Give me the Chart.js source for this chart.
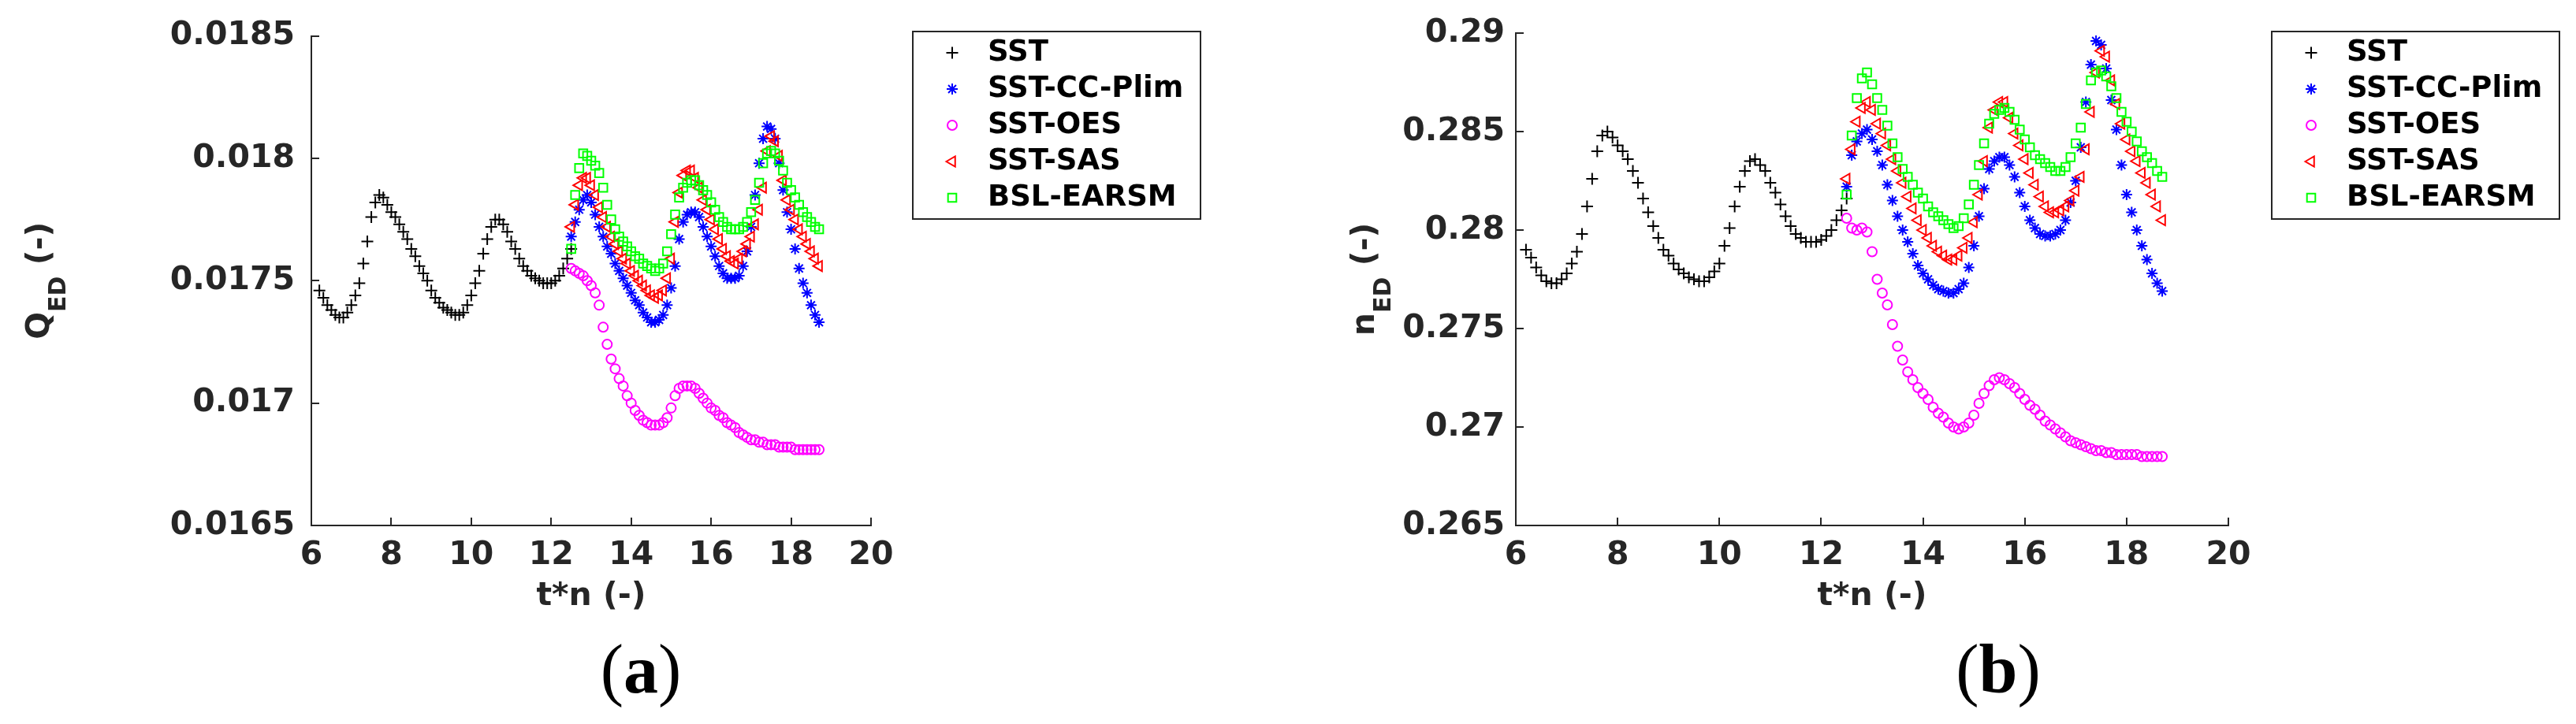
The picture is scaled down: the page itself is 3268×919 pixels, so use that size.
<!DOCTYPE html>
<html>
<head>
<meta charset="utf-8">
<script src="https://cdn.jsdelivr.net/npm/chart.js@4.4.1/dist/chart.umd.min.js"></script>
<style>
  html, body { margin: 0; padding: 0; background: #ffffff; }
  #wrap { position: relative; width: 3268px; height: 919px; }
  canvas { position: absolute; top: 0; }
</style>
</head>
<body>
<div id="wrap">
  <canvas id="chartQ" width="1634" height="919" style="left:0px"></canvas>
  <canvas id="chartN" width="1634" height="919" style="left:1634px"></canvas>
</div>
<script>
// ---- data ----
const seriesNames = ["SST", "SST-CC-Plim", "SST-OES", "SST-SAS", "BSL-EARSM"];

const xTicks = [6, 8, 10, 12, 14, 16, 18, 20];
const xTickLabels = ["6", "8", "10", "12", "14", "16", "18", "20"];
const qTicks = [0.0165, 0.017, 0.0175, 0.018, 0.0185];
const qTickLabels = ["0.0165", "0.017", "0.0175", "0.018", "0.0185"];
const nTicks = [0.265, 0.27, 0.275, 0.28, 0.285, 0.29];
const nTickLabels = ["0.265", "0.27", "0.275", "0.28", "0.285", "0.29"];

// time of the SST run and of the restarted runs
const tSST = [6.2, 6.3, 6.4, 6.5, 6.6, 6.7, 6.8, 6.9, 7.0, 7.1, 7.2, 7.3, 7.4, 7.5, 7.6, 7.7,
  7.8, 7.9, 8.0, 8.1, 8.2, 8.3, 8.4, 8.5, 8.6, 8.7, 8.8, 8.9, 9.0, 9.1, 9.2, 9.3, 9.4, 9.5,
  9.6, 9.7, 9.8, 9.9, 10.0, 10.1, 10.2, 10.3, 10.4, 10.5, 10.6, 10.7, 10.8, 10.9, 11.0, 11.1,
  11.2, 11.3, 11.4, 11.5, 11.6, 11.7, 11.8, 11.9, 12.0, 12.1, 12.2, 12.3, 12.4, 12.5];
const tRun = [12.5, 12.6, 12.7, 12.8, 12.9, 13.0, 13.1, 13.2, 13.3, 13.4, 13.5, 13.6, 13.7,
  13.8, 13.9, 14.0, 14.1, 14.2, 14.3, 14.4, 14.5, 14.6, 14.7, 14.8, 14.9, 15.0, 15.1, 15.2,
  15.3, 15.4, 15.5, 15.6, 15.7, 15.8, 15.9, 16.0, 16.1, 16.2, 16.3, 16.4, 16.5, 16.6, 16.7,
  16.8, 16.9, 17.0, 17.1, 17.2, 17.3, 17.4, 17.5, 17.6, 17.7, 17.8, 17.9, 18.0, 18.1, 18.2,
  18.3, 18.4, 18.5, 18.6, 18.7];

// panel (a): Q_ED
const qSST = [0.01746, 0.01743, 0.0174, 0.01738, 0.01736, 0.01735, 0.01735, 0.01737, 0.0174, 0.01744,
  0.01749, 0.01757, 0.01766, 0.01776, 0.01782, 0.01785, 0.01784, 0.01781, 0.01778, 0.01776,
  0.01773, 0.0177, 0.01767, 0.01763, 0.0176, 0.01756, 0.01753, 0.0175, 0.01746, 0.01743,
  0.01741, 0.01739, 0.01738, 0.01737, 0.01736, 0.01736, 0.01737, 0.0174, 0.01744, 0.01749,
  0.01754, 0.01761, 0.01767, 0.01772, 0.01775, 0.01775, 0.01773, 0.0177, 0.01766, 0.01763,
  0.01759, 0.01756, 0.01754, 0.01752, 0.01751, 0.0175, 0.01749, 0.01749, 0.01749, 0.0175,
  0.01752, 0.01755, 0.01759, 0.01763];
const qPlim = [0.01768, 0.01774, 0.01779, 0.01783, 0.01785, 0.01782, 0.01777, 0.01772, 0.01768, 0.01764,
  0.01761, 0.01757, 0.01754, 0.01751, 0.01748, 0.01745, 0.01742, 0.0174, 0.01737, 0.01735,
  0.01733, 0.01733, 0.01734, 0.01736, 0.0174, 0.01747, 0.01756, 0.01767, 0.01774, 0.01777,
  0.01778, 0.01778, 0.01776, 0.01772, 0.01768, 0.01764, 0.0176, 0.01756, 0.01753, 0.01751,
  0.01751, 0.01751, 0.01752, 0.01756, 0.01762, 0.01772, 0.01785, 0.01798, 0.01808, 0.01813,
  0.01812, 0.01808, 0.01798, 0.01787, 0.01778, 0.01771, 0.01763, 0.01755, 0.01749, 0.01745,
  0.0174, 0.01736, 0.01733];
const qOES = [0.01755, 0.01754, 0.01753, 0.01752, 0.0175, 0.01748, 0.01745, 0.0174, 0.01731, 0.01724,
  0.01718, 0.01714, 0.0171, 0.01707, 0.01703, 0.017, 0.01697, 0.01695, 0.01693, 0.01692,
  0.01691, 0.01691, 0.01691, 0.01692, 0.01694, 0.01698, 0.01703, 0.01706, 0.01707, 0.01707,
  0.01707, 0.01706, 0.01704, 0.01702, 0.017, 0.01698, 0.01697, 0.01695, 0.01694, 0.01692,
  0.01691, 0.0169, 0.01688, 0.01687, 0.01686, 0.01685, 0.01685, 0.01684, 0.01684, 0.01683,
  0.01683, 0.01683, 0.01682, 0.01682, 0.01682, 0.01682, 0.01681, 0.01681, 0.01681, 0.01681,
  0.01681, 0.01681, 0.01681];
const qSAS = [0.01772, 0.01781, 0.01789, 0.01792, 0.01792, 0.01789, 0.01785, 0.0178, 0.01776, 0.01772,
  0.01768, 0.01765, 0.01762, 0.01759, 0.01757, 0.01754, 0.01752, 0.0175, 0.01748, 0.01746,
  0.01744, 0.01743, 0.01744, 0.01746, 0.01751, 0.01759, 0.01774, 0.01786, 0.01793, 0.01795,
  0.01795, 0.01792, 0.01788, 0.01783, 0.01779, 0.01775, 0.01771, 0.01767, 0.01763, 0.0176,
  0.01758, 0.01757, 0.01759, 0.01762, 0.01765, 0.01768, 0.01773, 0.01779, 0.01788, 0.01803,
  0.01809, 0.01807, 0.01801, 0.01791, 0.01783, 0.01779, 0.01775, 0.01771, 0.01768, 0.01765,
  0.01762, 0.01759, 0.01756];
const qEARSM = [0.01763, 0.01785, 0.01796, 0.01802, 0.01801, 0.01799, 0.01797, 0.01794, 0.01788, 0.01781,
  0.01775, 0.01771, 0.01768, 0.01766, 0.01764, 0.01762, 0.0176, 0.01759, 0.01757, 0.01756,
  0.01755, 0.01754, 0.01755, 0.01757, 0.01762, 0.01769, 0.01777, 0.01784, 0.01788, 0.0179,
  0.01791, 0.01791, 0.01789, 0.01787, 0.01785, 0.01782, 0.01779, 0.01776, 0.01774, 0.01772,
  0.01771, 0.01771, 0.01771, 0.01772, 0.01774, 0.01778, 0.01783, 0.0179, 0.01798, 0.01802,
  0.01803, 0.01802, 0.01799, 0.01795, 0.0179, 0.01787, 0.01784, 0.01781, 0.01778, 0.01776,
  0.01774, 0.01772, 0.01771];

// panel (b): n_ED
const nSST = [0.2790, 0.2786, 0.2781, 0.2777, 0.2774, 0.2773, 0.2773, 0.2775, 0.2778, 0.2783,
  0.2789, 0.2798, 0.2812, 0.2826, 0.2840, 0.2848, 0.2850, 0.2847, 0.2843, 0.2840,
  0.2836, 0.2830, 0.2824, 0.2816, 0.2809, 0.2802, 0.2796, 0.2790, 0.2787, 0.2783,
  0.2780, 0.2778, 0.2776, 0.2775, 0.2774, 0.2774, 0.2776, 0.2779, 0.2783, 0.2792,
  0.2801, 0.2812, 0.2822, 0.2830, 0.2835, 0.2836, 0.2833, 0.2830, 0.2824, 0.2819,
  0.2813, 0.2807, 0.2802, 0.2798, 0.2796, 0.2794, 0.2794, 0.2794, 0.2795, 0.2797,
  0.2800, 0.2805, 0.2810, 0.2816];
const nPlim = [0.2822, 0.2838, 0.2845, 0.2849, 0.2851, 0.2846, 0.2840, 0.2833, 0.2823, 0.2815,
  0.2807, 0.2800, 0.2794, 0.2788, 0.2782, 0.2778, 0.2775, 0.2772, 0.2770, 0.2769,
  0.2768, 0.2768, 0.2770, 0.2773, 0.2781, 0.2792, 0.2807, 0.2821, 0.2831, 0.2835,
  0.2837, 0.2837, 0.2833, 0.2827, 0.2819, 0.2812, 0.2805, 0.2801, 0.2798, 0.2797,
  0.2797, 0.2798, 0.2800, 0.2805, 0.2814, 0.2825, 0.2842, 0.2865, 0.2884, 0.2896,
  0.2894, 0.2882, 0.2866, 0.2851, 0.2833, 0.2818, 0.2809, 0.2800, 0.2792, 0.2785,
  0.2778, 0.2773, 0.2769];
const nOES = [0.2806, 0.2801, 0.2800, 0.2801, 0.2799, 0.2789, 0.2775, 0.2768, 0.2762, 0.2752,
  0.2741, 0.2734, 0.2728, 0.2724, 0.2720, 0.2717, 0.2714, 0.2710, 0.2707, 0.2705,
  0.2702, 0.2700, 0.2699, 0.2700, 0.2702, 0.2706, 0.2712, 0.2717, 0.2721, 0.2724,
  0.2725, 0.2724, 0.2722, 0.2720, 0.2717, 0.2714, 0.2711, 0.2709, 0.2706, 0.2703,
  0.2701, 0.2699, 0.2697, 0.2695, 0.2693, 0.2692, 0.2691, 0.2690, 0.2689, 0.2688,
  0.2688, 0.2687, 0.2687, 0.2686, 0.2686, 0.2686, 0.2686, 0.2686, 0.2685, 0.2685,
  0.2685, 0.2685, 0.2685];
const nSAS = [0.2826, 0.2841, 0.2855, 0.2862, 0.2865, 0.2861, 0.2854, 0.2849, 0.2843, 0.2836,
  0.2830, 0.2824, 0.2817, 0.2811, 0.2805, 0.2800, 0.2796, 0.2792, 0.2789, 0.2787,
  0.2785, 0.2785, 0.2787, 0.2791, 0.2796, 0.2804, 0.2818, 0.2835, 0.2852, 0.2861,
  0.2865, 0.2865, 0.2857, 0.2849, 0.2843, 0.2836, 0.2829, 0.2823, 0.2817, 0.2812,
  0.2809, 0.2809, 0.2810, 0.2812, 0.2815, 0.2820, 0.2827, 0.2841, 0.2860, 0.2880,
  0.2891, 0.2888, 0.2876, 0.2864, 0.2854, 0.2846, 0.2840, 0.2835, 0.2829, 0.2824,
  0.2818, 0.2812, 0.2805];
const nEARSM = [0.2818, 0.2848, 0.2867, 0.2877, 0.2880, 0.2874, 0.2867, 0.2861, 0.2853, 0.2844,
  0.2837, 0.2831, 0.2827, 0.2823, 0.2819, 0.2816, 0.2812, 0.2809, 0.2807, 0.2805,
  0.2803, 0.2801, 0.2802, 0.2806, 0.2813, 0.2823, 0.2833, 0.2844, 0.2854, 0.2859,
  0.2861, 0.2862, 0.2860, 0.2856, 0.2851, 0.2846, 0.2842, 0.2838, 0.2836, 0.2834,
  0.2832, 0.2830, 0.2830, 0.2832, 0.2837, 0.2844, 0.2852, 0.2864, 0.2876, 0.2880,
  0.2881, 0.2878, 0.2873, 0.2867, 0.2860, 0.2855, 0.2850, 0.2845, 0.2840, 0.2837,
  0.2834, 0.2830, 0.2827];

// ---- styles (matlab markers) ----
const seriesColors = ["#000000", "#0000ff", "#ff00ff", "#ff0000", "#00ff00"];
const seriesMarkers = ["cross", "star", "circle", "triangle", "rect"];
const markerRadius = [7.5, 7, 6, 7.5, 7.5];
const markerRotation = [0, 0, 0, -90, 0];
const markerLine = 2;
const axisColor = "#262626";
const fontFamily = "'DejaVu Sans'";

Chart.defaults.font.family = fontFamily;

const toPoints = function (xs, ys) {
  return xs.map(function (x, i) {
    return { x: x, y: ys[i] };
  });
};

const buildDatasets = function (runs) {
  return runs.map(function (run, i) {
    return {
      label: seriesNames[i],
      data: toPoints(run[0], run[1]),
      showLine: false,
      pointStyle: seriesMarkers[i],
      pointRadius: markerRadius[i],
      pointHoverRadius: markerRadius[i],
      pointRotation: markerRotation[i],
      pointBorderColor: seriesColors[i],
      pointBackgroundColor: "rgba(0,0,0,0)",
      pointBorderWidth: markerLine,
      borderColor: seriesColors[i],
      order: 5 - i,
    };
  });
};

// ticks pointing inside, y title with subscript, legend box, sub caption
const panelDecor = {
  id: "panelDecor",
  afterDraw: function (chart, args, opts) {
    const ctx = chart.ctx;
    const area = chart.chartArea;
    const xs = chart.scales.x;
    const ys = chart.scales.y;
    ctx.save();

    ctx.strokeStyle = axisColor;
    ctx.lineWidth = 2;
    ctx.beginPath();
    xs.ticks.forEach(function (t) {
      const px = Math.round(xs.getPixelForValue(t.value));
      ctx.moveTo(px, area.bottom);
      ctx.lineTo(px, area.bottom - opts.tickLen);
    });
    ys.ticks.forEach(function (t) {
      const py = Math.round(ys.getPixelForValue(t.value));
      ctx.moveTo(area.left, py);
      ctx.lineTo(area.left + opts.tickLen, py);
    });
    ctx.stroke();

    // y axis title
    const big = "bold 41px " + fontFamily;
    const small = "bold 30px " + fontFamily;
    ctx.font = big;
    const w1 = ctx.measureText(opts.yMain).width;
    const w3 = ctx.measureText(" (-)").width;
    ctx.font = small;
    const w2 = ctx.measureText("ED").width;
    ctx.save();
    ctx.translate(opts.yTitleX, (area.top + area.bottom) / 2);
    ctx.rotate(-Math.PI / 2);
    ctx.fillStyle = axisColor;
    ctx.textAlign = "left";
    ctx.textBaseline = "alphabetic";
    let tx = -(w1 + w2 + w3) / 2;
    ctx.font = big;
    ctx.fillText(opts.yMain, tx, 0);
    tx += w1;
    ctx.font = small;
    ctx.fillText("ED", tx, 21);
    tx += w2;
    ctx.font = big;
    ctx.fillText(" (-)", tx, 0);
    ctx.restore();

    // legend
    const lg = opts.legend;
    ctx.strokeStyle = axisColor;
    ctx.lineWidth = 2;
    ctx.strokeRect(lg.left, lg.top, lg.width, lg.height);
    ctx.font = "bold 37px " + fontFamily;
    ctx.textAlign = "left";
    ctx.textBaseline = "middle";
    chart.data.datasets.forEach(function (ds, i) {
      const y = lg.top + 27 + i * 46;
      ctx.strokeStyle = seriesColors[i];
      ctx.fillStyle = "rgba(0,0,0,0)";
      ctx.lineWidth = markerLine;
      Chart.helpers.drawPoint(ctx, {
        pointStyle: seriesMarkers[i],
        radius: markerRadius[i],
        rotation: markerRotation[i],
        borderWidth: markerLine,
      }, lg.left + 50, y);
      ctx.fillStyle = "#000000";
      ctx.fillText(ds.label, lg.left + 95, y);
    });

    // sub caption (a) / (b)
    const serif = "88px 'Liberation Serif'";
    const serifBold = "bold 88px 'Liberation Serif'";
    ctx.font = serif;
    const pw = ctx.measureText("(").width;
    ctx.font = serifBold;
    const lw = ctx.measureText(opts.caption).width;
    let cx = opts.captionX - (2 * pw + lw) / 2;
    ctx.fillStyle = "#000000";
    ctx.textBaseline = "alphabetic";
    ctx.font = serif;
    ctx.fillText("(", cx, 879);
    cx += pw;
    ctx.font = serifBold;
    ctx.fillText(opts.caption, cx, 879);
    cx += lw;
    ctx.font = serif;
    ctx.fillText(")", cx, 879);

    ctx.restore();
  },
};

const makePanel = function (id, runs, yMin, yMax, yTicks, yTickLabels, p) {
  const ctx = document.getElementById(id).getContext("2d");
  return new Chart(ctx, {
    type: "scatter",
    data: { datasets: buildDatasets(runs) },
    options: {
      responsive: false,
      animation: false,
      devicePixelRatio: 1,
      layout: { padding: { left: 0, top: 42, right: p.padRight, bottom: 0 } },
      plugins: {
        legend: { display: false },
        tooltip: { enabled: false },
        panelDecor: p,
      },
      scales: {
        x: {
          type: "linear",
          min: 6,
          max: 20,
          afterBuildTicks: function (scale) {
            scale.ticks = xTicks.map(function (v) { return { value: v }; });
          },
          afterFit: function (scale) { scale.height = 252; },
          grid: { display: false, drawTicks: false },
          border: { display: true, color: axisColor, width: 2 },
          ticks: {
            autoSkip: false,
            maxRotation: 0,
            padding: 14,
            color: axisColor,
            font: { size: 41, weight: "bold" },
            callback: function (v, i) { return xTickLabels[i]; },
          },
          title: {
            display: true,
            text: "t*n (-)",
            color: axisColor,
            font: { size: 41, weight: "bold" },
            padding: { top: 0, bottom: 137 },
          },
        },
        y: {
          type: "linear",
          min: yMin,
          max: yMax,
          afterBuildTicks: function (scale) {
            scale.ticks = yTicks.map(function (v) { return { value: v }; });
          },
          afterFit: function (scale) { scale.width = p.yWidth; },
          grid: { display: false, drawTicks: false },
          border: { display: true, color: axisColor, width: 2 },
          ticks: {
            autoSkip: false,
            padding: p.yPad,
            color: axisColor,
            font: { size: 41, weight: "bold" },
            callback: function (v, i) { return yTickLabels[i]; },
          },
        },
      },
    },
    plugins: [panelDecor],
  });
};

makePanel("chartQ",
  [[tSST, qSST], [tRun, qPlim], [tRun, qOES], [tRun, qSAS], [tRun, qEARSM]],
  0.0165, 0.0185, qTicks, qTickLabels,
  {
    padRight: 529, yWidth: 395, yPad: 21, tickLen: 10,
    yMain: "Q", yTitleX: 62,
    legend: { left: 1158, top: 40, width: 365, height: 238 },
    caption: "a", captionX: 813,
  });

makePanel("chartN",
  [[tSST, nSST], [tRun, nPlim], [tRun, nOES], [tRun, nSAS], [tRun, nEARSM]],
  0.265, 0.29, nTicks, nTickLabels,
  {
    padRight: 441, yWidth: 289, yPad: 14, tickLen: 10,
    yMain: "n", yTitleX: 109,
    legend: { left: 1248, top: 40, width: 365, height: 238 },
    caption: "b", captionX: 901,
  });
</script>
</body>
</html>
